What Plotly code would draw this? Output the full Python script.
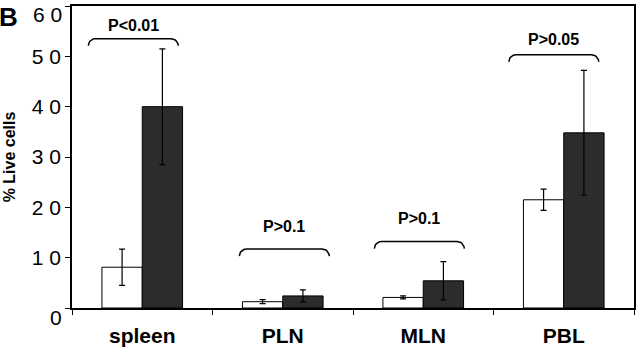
import numpy as np
import plotly.graph_objects as go

categories = ["spleen", "PLN", "MLN", "PBL"]
white_vals = [8.1, 1.25, 2.1, 21.5]
white_err = [3.6, 0.4, 0.3, 2.1]
dark_vals = [40.0, 2.4, 5.4, 34.8]
dark_err = [11.5, 1.2, 3.8, 12.4]

p_labels = ["P<0.01", "P>0.1", "P>0.1", "P>0.05"]
brace_center = [-0.064, 1.011, 1.972, 2.929]
brace_height = [53.5, 11.7, 13.2, 50.3]
label_height = [56.1, 16.2, 17.7, 53.3]

ytick_vals = [0, 10, 20, 30, 40, 50, 60]
ytick_text = ["0", "1 0", "2 0", "3 0", "4 0", "5 0", "6 0"]

FONT = "Liberation Sans, Arial, sans-serif"

fig = go.Figure()
fig.add_trace(go.Bar(
    x=categories, y=white_vals,
    marker=dict(color="white", line=dict(color="black", width=1)),
    error_y=dict(type="data", array=white_err, color="black", thickness=1.2, width=3),
    showlegend=False,
))
fig.add_trace(go.Bar(
    x=categories, y=dark_vals,
    marker=dict(color="#2c2c2c", line=dict(color="black", width=1)),
    error_y=dict(type="data", array=dark_err, color="black", thickness=1.2, width=3),
    showlegend=False,
))

# braces drawn on an overlaid numeric x axis
half_w = 0.32
r = 0.05
d = 1.4
theta = np.linspace(np.pi, np.pi / 2, 10)
for c, h in zip(brace_center, brace_height):
    xl, xr = c - half_w, c + half_w
    lx = xl + r + r * np.cos(theta)
    ly = h - d + d * np.sin(theta)
    rx = (xr - r - r * np.cos(theta))[::-1]
    ry = ly[::-1]
    xs = np.concatenate([lx, rx])
    ys = np.concatenate([ly, ry])
    fig.add_trace(go.Scatter(
        x=xs, y=ys, mode="lines", xaxis="x2",
        line=dict(color="black", width=1.5), showlegend=False, hoverinfo="skip",
    ))

for c, yl, t in zip(brace_center, label_height, p_labels):
    fig.add_annotation(
        x=c, y=yl, xref="x2", yref="y", text="<b>%s</b>" % t,
        showarrow=False, font=dict(family=FONT, size=16, color="black"),
        xanchor="center", yanchor="middle",
    )

# edge tick labels (0 and 60) sit slightly inside the frame, as in the reference
axis_text = list(ytick_text)
edge_shift = {0: -9, len(ytick_vals) - 1: -8}
for i, s in edge_shift.items():
    axis_text[i] = ""
    fig.add_annotation(
        x=0, y=ytick_vals[i], xref="paper", yref="y", text=ytick_text[i],
        showarrow=False, font=dict(family=FONT, size=21, color="black"),
        xanchor="right", yanchor="middle", xshift=-8, yshift=s,
    )

fig.add_annotation(
    x=-0.133, y=1.02, xref="paper", yref="paper", text="<b>B</b>",
    showarrow=False, font=dict(family=FONT, size=26, color="black"),
    xanchor="left", yanchor="top",
)

fig.update_layout(
    width=640, height=352,
    margin=dict(l=72, r=4, t=6, b=44),
    paper_bgcolor="white", plot_bgcolor="white",
    barmode="group", bargap=0.426, bargroupgap=0,
    font=dict(family=FONT, color="black"),
    xaxis=dict(
        type="category", tickson="boundaries", ticks="outside", ticklen=5,
        tickwidth=1.2, tickcolor="black",
        showline=True, linecolor="black", linewidth=1.5, mirror=True,
        showgrid=False, tickfont=dict(family=FONT, size=21),
        tickprefix="<b>", ticksuffix="</b>", ticklabelstandoff=8,
        range=[-0.5, 3.5],
    ),
    xaxis2=dict(overlaying="x", range=[-0.5, 3.5], visible=False),
    yaxis=dict(
        range=[0, 60], tickvals=ytick_vals, ticktext=axis_text,
        ticks="outside", ticklen=5, tickwidth=1.2, tickcolor="black",
        showline=True, linecolor="black", linewidth=1.5, mirror=True,
        showgrid=False, zeroline=False, tickfont=dict(family=FONT, size=21),
        title=dict(text="<b>% Live cells</b>", font=dict(family=FONT, size=16), standoff=12),
    ),
)

fig.write_html("out.html", config={"displayModeBar": False},
               post_script="document.body.style.margin='0';")
